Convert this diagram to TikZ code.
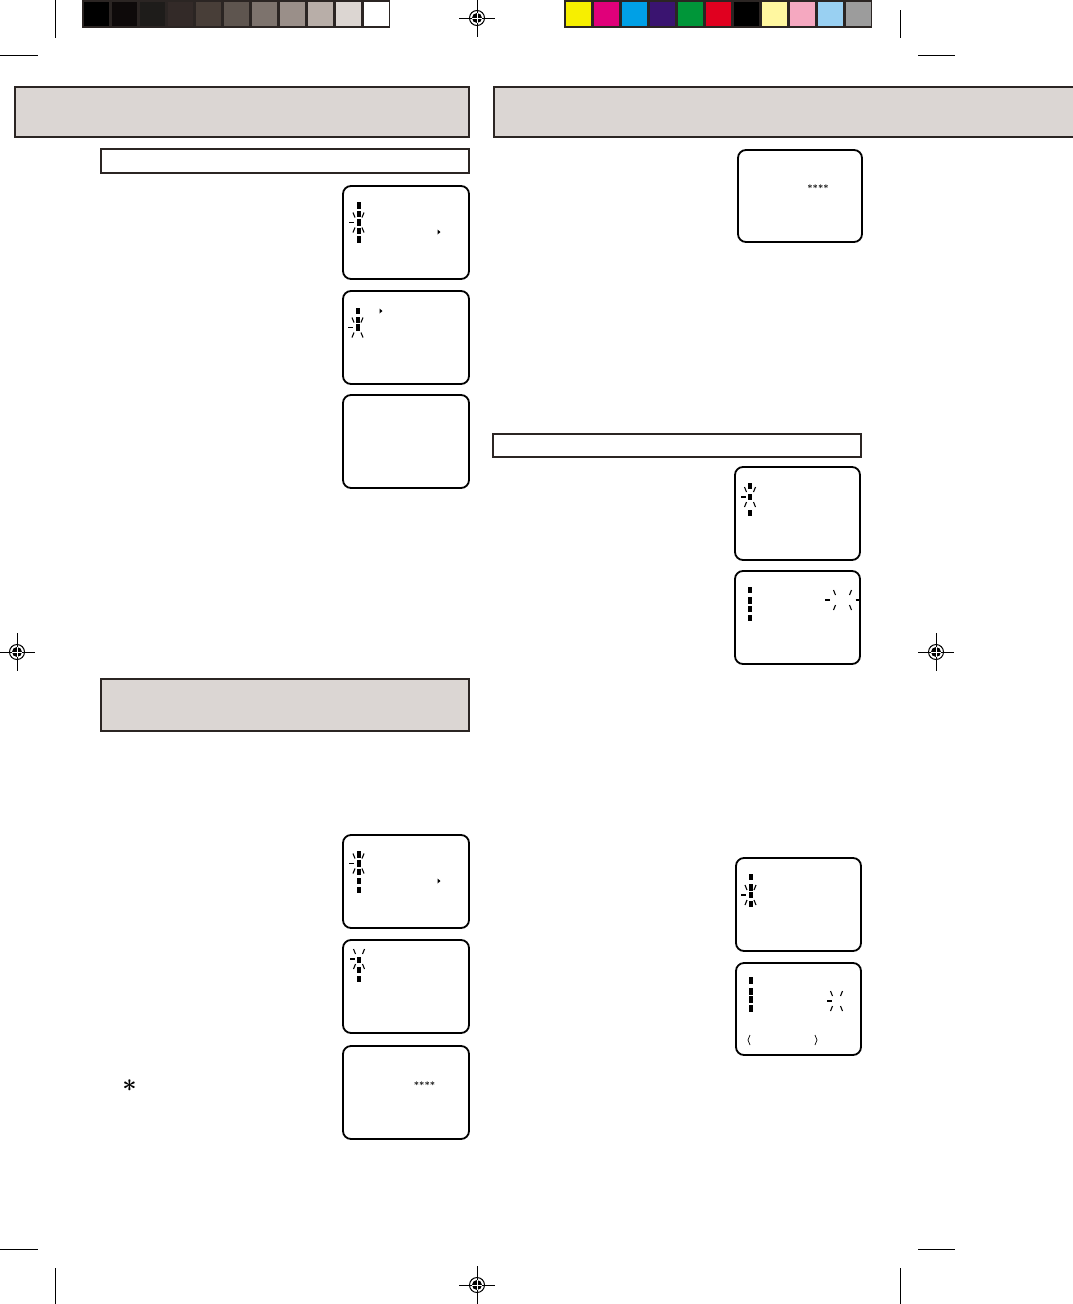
\documentclass[tikz,border=0pt]{standalone}
\usepackage{amsmath}

\definecolor{inkdark}{HTML}{2B2523}
\definecolor{panelgray}{HTML}{DBD6D3}
\definecolor{gA}{HTML}{000000}
\definecolor{gB}{HTML}{0E0A0A}
\definecolor{gC}{HTML}{1E1C1A}
\definecolor{gD}{HTML}{332A28}
\definecolor{gE}{HTML}{483E38}
\definecolor{gF}{HTML}{5E554F}
\definecolor{gG}{HTML}{7D736D}
\definecolor{gH}{HTML}{9A8F89}
\definecolor{gI}{HTML}{B8AEA8}
\definecolor{gJ}{HTML}{DCD6D2}
\definecolor{gK}{HTML}{FFFFFF}
\definecolor{cA}{HTML}{F7EF00}
\definecolor{cB}{HTML}{E0007A}
\definecolor{cC}{HTML}{00A0E6}
\definecolor{cD}{HTML}{3A1470}
\definecolor{cE}{HTML}{009639}
\definecolor{cF}{HTML}{E0001F}
\definecolor{cG}{HTML}{000000}
\definecolor{cH}{HTML}{FFF7A0}
\definecolor{cI}{HTML}{F5A8C0}
\definecolor{cJ}{HTML}{99D0F2}
\definecolor{cK}{HTML}{9C9C9C}

% 小方块、闪烁标记、套准标记
\newcommand{\blk}[2]{\fill (#1-2,#2-3.2) rectangle (#1+2,#2+3.2);}
\newcommand{\blink}[4]{%
  \draw[ray] (#1-#3-1,#2-5) -- (#1-#3-3,#2-10);
  \draw[ray] (#1+#3+1,#2-5) -- (#1+#3+3,#2-10);
  \draw[ray] (#1-#3-1,#2+5) -- (#1-#3-3,#2+10);
  \draw[ray] (#1+#3+1,#2+5) -- (#1+#3+3,#2+10);
  \draw[ray] (#1-#4,#2) -- (#1-#4-5,#2);}
\newcommand{\regmark}[2]{%
  \draw[line width=1pt] (#1-18,#2) -- (#1+18,#2) (#1,#2-19) -- (#1,#2+19);
  \draw[line width=1pt] (#1,#2) circle[radius=7.5];
  \fill (#1,#2) circle[radius=5];
  \draw[white, line width=1pt] (#1-5,#2) -- (#1+5,#2) (#1,#2-5) -- (#1,#2+5);}

\begin{document}
\begin{tikzpicture}[
  x=1pt, y=-1pt,
  header/.style={draw=inkdark, fill=panelgray, line width=2pt},
  subbar/.style={draw=inkdark, fill=white, line width=1.5pt},
  screen/.style={draw=black, line width=1.8pt, rounded corners=8pt},
  ray/.style={line width=1.1pt},
  crop/.style={line width=0.8pt},
  stars/.style={inner sep=0pt, font=\fontsize{9}{9}\selectfont\bfseries},
]
  \useasboundingbox (0,0) rectangle (1072,1304);

  % 灰阶条和色条
  \fill[inkdark] (82,0) rectangle (390,28);
  \foreach \c [count=\i from 0] in {gA,gB,gC,gD,gE,gF,gG,gH,gI,gJ,gK}
    \fill[\c] (83.5+28*\i,2) rectangle (108.5+28*\i,26);
  \fill[inkdark] (564,0) rectangle (872,28);
  \foreach \c [count=\i from 0] in {cA,cB,cC,cD,cE,cF,cG,cH,cI,cJ,cK}
    \fill[\c] (566+28*\i,2) rectangle (591+28*\i,26);

  \regmark{477}{18}
  \regmark{17}{652}
  \regmark{936}{652}
  \regmark{477}{1285}

  % 裁切线
  \draw[crop] (55,0) -- (55,38);
  \draw[crop] (0,55) -- (38,55);
  \draw[crop] (900,10) -- (900,38);
  \draw[crop] (918,55) -- (955,55);
  \draw[crop] (0,1249) -- (38,1249);
  \draw[crop] (55,1268) -- (55,1304);
  \draw[crop] (918,1249) -- (955,1249);
  \draw[crop] (900,1268) -- (900,1304);

  % 标题框
  \draw[header] (15,87) rectangle (469,137);
  \draw[header] (494,87) rectangle (1076,137);
  \draw[subbar] (101,149) rectangle (469,173);
  \draw[subbar] (493,434) rectangle (861,457);
  \draw[header] (101,679) rectangle (469,731);

  % 屏幕
  \draw[screen] (343,186) rectangle (469,279);
  \draw[screen] (343,291) rectangle (469,384);
  \draw[screen] (343,395) rectangle (469,488);
  \draw[screen] (738,150) rectangle (862,242);
  \draw[screen] (735,467) rectangle (860,560);
  \draw[screen] (735,571) rectangle (860,664);
  \draw[screen] (343,835) rectangle (469,928);
  \draw[screen] (343,940) rectangle (469,1033);
  \draw[screen] (343,1046) rectangle (469,1139);
  \draw[screen] (736,858) rectangle (861,951);
  \draw[screen] (736,963) rectangle (861,1055);

  % 屏幕内容
  \foreach \y in {205.5,214,222.5,231,239.5} {\blk{358.5}{\y}}
  \blink{358.5}{222.5}{2.5}{4.5}
  \fill (437.5,229.5) -- (440.5,232) -- (437.5,234.5) -- cycle;

  \foreach \y in {311,320,327.5} {\blk{357.5}{\y}}
  \blink{357.5}{327.5}{2.5}{4.5}
  \fill (379.5,308.5) -- (382.5,311) -- (379.5,313.5) -- cycle;

  \node[stars] (pwA) at (818,188) {****};

  \foreach \y in {486,497,513} {\blk{750}{\y}}
  \blink{750}{497}{2.5}{4.5}

  \foreach \y in {590,600.5,609,618} {\blk{750}{\y}}
  \blink{842.5}{600}{6}{12.5}
  \draw[ray] (855.5,600) -- (860,600);

  \foreach \y in {854.5,863.5,872,881,890} {\blk{358.5}{\y}}
  \blink{358.5}{863.5}{2.5}{4.5}
  \fill (437.5,878.5) -- (440.5,881) -- (437.5,883.5) -- cycle;

  \foreach \y in {960,970,979} {\blk{359}{\y}}
  \blink{359}{959}{2.5}{4.5}

  \node[stars] (pwB) at (424.5,1085) {****};
  \node[inner sep=0pt, font=\fontsize{25}{25}\selectfont\boldmath] (note) at (129.5,1086) {$\ast$};

  \foreach \y in {877,887.5,895,904} {\blk{750.5}{\y}}
  \blink{750.5}{895}{2.5}{5}

  \foreach \y in {980.5,991.5,999.5,1008.5} {\blk{751}{\y}}
  \blink{836.5}{1001}{3}{5}
  \draw[ray, line width=0.7pt] (750,1035) -- (748,1040) -- (750,1045);
  \draw[ray, line width=0.7pt] (815,1035) -- (817,1040) -- (815,1045);
\end{tikzpicture}
\end{document}
